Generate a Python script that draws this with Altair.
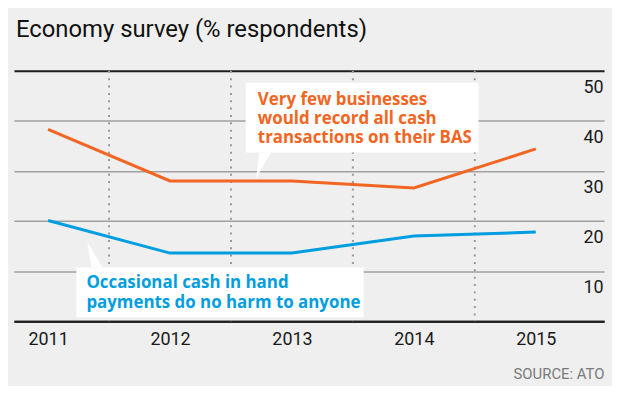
import altair as alt
import pandas as pd

# ---- data ----
years = [2011, 2012, 2013, 2014, 2015]
record_all_cash = [38.3, 28.0, 28.0, 26.6, 34.4]
cash_no_harm = [20.1, 13.6, 13.6, 17.0, 17.8]
y_ticks = [0, 10, 20, 30, 40, 50]

series_orange = "Very few businesses\nwould record all cash\ntransactions on their BAS"
series_blue = "Occasional cash in hand\npayments do no harm to anyone"
colors = ["#f26522", "#009ee0"]

# annotation geometry in data units (year, % respondents)
ann_text_x = [2012.72, 2011.314]
ann_text_y = [43.25, 6.55]
box_x1 = [2012.62, 2011.232]
box_x2 = [2014.53, 2013.588]
box_y1 = [47.6, 10.7]
box_y2 = [33.7, 0.8]
ptr_y = [33.7, 28.6, 10.7, 15.9]
ptr_x1 = [2012.732, 2012.707, 2011.355, 2011.322]
ptr_x2 = [2012.830, 2012.707, 2011.444, 2011.322]

x_domain = [2010.72, 2015.56]
y_domain = [0, 50]

# ---- tables ----
lines_df = pd.DataFrame({
    "year": years * 2,
    "value": record_all_cash + cash_no_harm,
    "series": [series_orange] * len(years) + [series_blue] * len(years),
})
mid_df = pd.DataFrame({"mid": [(a + b) / 2 for a, b in zip(years, years[1:])]})
ann_df = pd.DataFrame({
    "series": [series_orange, series_blue],
    "text": [series_orange, series_blue],
    "tx": ann_text_x, "ty": ann_text_y,
    "bx1": box_x1, "bx2": box_x2, "by1": box_y1, "by2": box_y2,
})
ptr_df = pd.DataFrame({
    "series": [series_orange, series_orange, series_blue, series_blue],
    "py": ptr_y, "px1": ptr_x1, "px2": ptr_x2,
})

FONT = "Roboto"
ANN_FONT = "Open Sans"
xscale = alt.Scale(domain=x_domain, nice=False, zero=False)
yscale = alt.Scale(domain=y_domain, nice=False)
cscale = alt.Scale(domain=[series_orange, series_blue], range=colors)

x_axis = alt.Axis(
    values=years, format="d", title="SOURCE: ATO",
    grid=False, ticks=False, domain=True, domainColor="#1e1e1e", domainWidth=2,
    labelFont=FONT, labelFontSize=18, labelColor="#1a1a1a",
    labelPadding=23, labelBaseline="alphabetic",
    titleFont=FONT, titleFontSize=15, titleFontWeight="normal", titleColor="#7a7a7a",
    titleAnchor="end", titleAlign="right", titleBaseline="alphabetic", titleY=58,
)
y_axis = alt.Axis(
    values=y_ticks, orient="right", title=None,
    domain=False, ticks=False, grid=True,
    gridColor={"condition": {"test": "datum.value === 0 || datum.value === 50", "value": "#1e1e1e"}, "value": "#a0a0a0"},
    gridWidth={"condition": {"test": "datum.value === 0 || datum.value === 50", "value": 2}, "value": 1.5},
    labelExpr="datum.value === 0 ? '' : datum.label",
    labelFont=FONT, labelFontSize=18, labelColor="#1a1a1a",
    labelAlign="right", labelBaseline="alphabetic", labelPadding=-1, labelOffset=22,
)

base_x = alt.X("year:Q", scale=xscale, axis=x_axis)
base_y = alt.Y("value:Q", scale=yscale, axis=y_axis)

dotted = alt.Chart(mid_df).mark_rule(
    color="#9a9a9a", strokeWidth=2, strokeDash=[2, 5.4]
).encode(x=alt.X("mid:Q", scale=xscale, axis=x_axis))

boxes = alt.Chart(ann_df).mark_rect(color="white").encode(
    x=alt.X("bx1:Q", scale=xscale), x2="bx2:Q",
    y=alt.Y("by1:Q", scale=yscale), y2="by2:Q",
)

pointers = alt.Chart(ptr_df).mark_area(orient="horizontal", color="white").encode(
    y=alt.Y("py:Q", scale=yscale),
    x=alt.X("px1:Q", scale=xscale, stack=None),
    x2="px2:Q",
    detail="series:N",
)

lines = alt.Chart(lines_df).mark_line(strokeWidth=3).encode(
    x=base_x, y=base_y,
    color=alt.Color("series:N", scale=cscale, legend=None),
)

labels = alt.Chart(ann_df).mark_text(
    align="left", baseline="alphabetic", font=ANN_FONT, fontSize=17, fontWeight="bold",
    lineBreak="\n", lineHeight=19.5,
).encode(
    x=alt.X("tx:Q", scale=xscale), y=alt.Y("ty:Q", scale=yscale),
    text="text:N",
    color=alt.Color("series:N", scale=cscale, legend=None),
)

chart = alt.layer(dotted, boxes, pointers, lines, labels).properties(
    width=594, height=252,
    background="#eeefee",
    padding={"left": 6, "top": 62, "right": 8, "bottom": 64},
    autosize=alt.AutoSizeParams(type="none"),
    title=alt.Title(
        "Economy survey (% respondents)", anchor="start", frame="group",
        font=FONT, fontSize=24, fontWeight="normal", color="#111111",
        baseline="alphabetic", offset=9, dx=2,
    ),
).configure_view(stroke=None)

chart.save("out.html", embed_options={"renderer": "svg", "actions": False})
